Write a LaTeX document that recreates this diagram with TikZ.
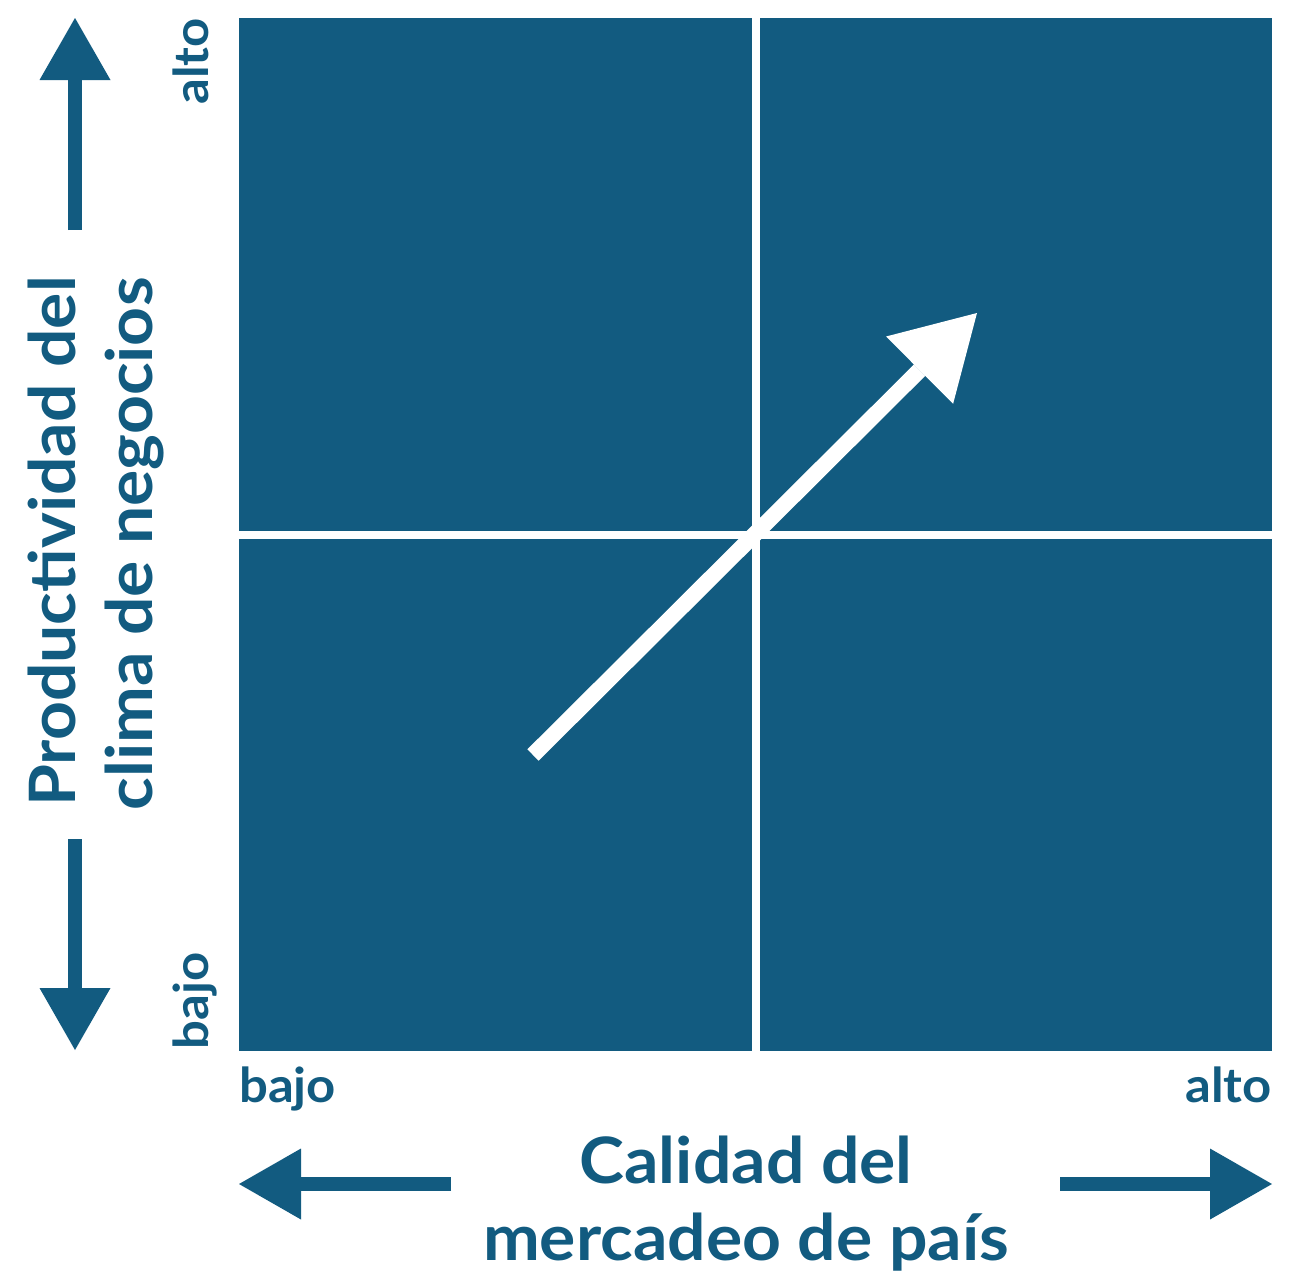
\documentclass[tikz,border=0pt]{standalone}
\usepackage{fontspec}
\setmainfont{Lato}[FakeStretch=1.06]
\usetikzlibrary{arrows.meta}
\definecolor{mainblue}{HTML}{125B80}
\begin{document}
\begin{tikzpicture}[x=1pt,y=-1pt,
  lbl/.style={text=mainblue, inner sep=0pt, font=\fontsize{48}{58}\selectfont\bfseries},
  big/.style={text=mainblue, inner sep=0pt, font=\fontsize{64}{77}\selectfont\bfseries},
  axarrow/.style={draw=mainblue, line width=14pt, -{Triangle[length=62pt,width=71pt,line width=0pt]}},
  divider/.style={draw=white, line width=8pt},
  trend/.style={draw=white, line width=16pt, -{Triangle[length=81pt,width=95pt,line width=0pt]}},
]
\useasboundingbox (0,0) rectangle (1304,1274);
\node[fill=mainblue, minimum width=1033pt, minimum height=1033pt, inner sep=0pt, outer sep=0pt, anchor=north west] (grid) at (239,18) {};
\draw[divider] (grid.north) -- (grid.south);
\draw[divider] (grid.west) -- (grid.east);
\coordinate (trendS) at (533,755);
\coordinate (trendT) at (977,313);
\draw[trend] (trendS) -- (trendT);
% axis arrows
\coordinate (upS) at (75,230);   \coordinate (upT) at (75,18);
\coordinate (dnS) at (75,839);   \coordinate (dnT) at (75,1050);
\coordinate (lfS) at (451,1184); \coordinate (lfT) at (239,1184);
\coordinate (rtS) at (1060,1184);\coordinate (rtT) at (1272,1184);
\draw[axarrow] (upS) -- (upT);
\draw[axarrow] (dnS) -- (dnT);
\draw[axarrow] (lfS) -- (lfT);
\draw[axarrow] (rtS) -- (rtT);
% small labels
\node[lbl, rotate=90, anchor=base] (yhi) at (208,61.5) {alto};
\node[lbl, rotate=90, anchor=base] (ylo) at (208,1001) {bajo};
\node[lbl, anchor=base west] (xlo) at (239,1102) {bajo};
\node[lbl, anchor=base east] (xhi) at (1272,1102) {alto};
% axis titles
\node[big, rotate=90, anchor=base] (ytitle1) at (75,541.5) {Productividad del};
\node[big, rotate=90, anchor=base] (ytitle2) at (152,544) {clima de negocios};
\node[big, anchor=base] (xtitle1) at (746,1183) {Calidad del};
\node[big, anchor=base] (xtitle2) at (746,1260) {mercadeo de país};
\end{tikzpicture}
\end{document}
